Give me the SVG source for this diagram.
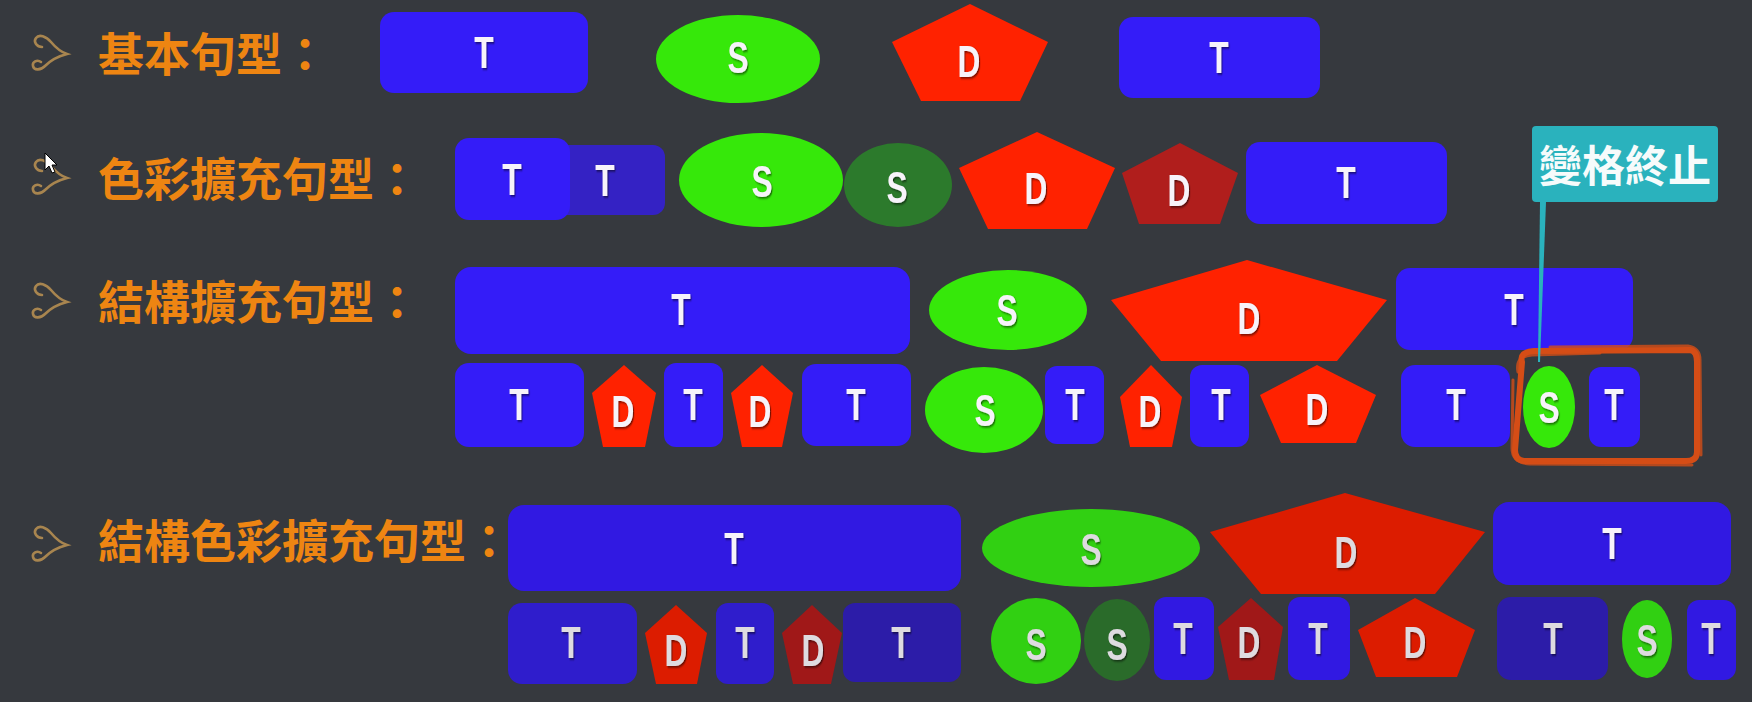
<svg xmlns="http://www.w3.org/2000/svg" width="1752" height="702" viewBox="0 0 1752 702">
<style>
.title{font-family:"Noto Sans CJK TC","Noto Sans CJK SC",sans-serif;font-weight:700;font-size:46px;fill:#ee8512}
.flagtxt{font-family:"Noto Sans CJK TC","Noto Sans CJK SC",sans-serif;font-weight:700;font-size:43px;fill:#f6fbfb;text-anchor:middle}
.lbl{font-family:"Liberation Sans",Arial,sans-serif;font-weight:700;font-size:44px;fill:#f7f3fa;text-anchor:middle;filter:url(#sh)}
.lbl2{font-family:"Liberation Sans",Arial,sans-serif;font-weight:700;font-size:44px;fill:#dedbe0;text-anchor:middle;filter:url(#sh)}
.icon{fill:none;stroke:#a8854f;stroke-width:2.6;stroke-linecap:round}
.tb{fill:#341cf8}
.tbd{fill:#3422c4}
.tb4{fill:#3119e2}
.tb4m{fill:#2f1dcc}
.tb4d{fill:#2c1ca8}
.sg{fill:#36e80a}
.sg4{fill:#31d012}
.sgd{fill:#2c7a2c}
.sgd4{fill:#2a6b2a}
.dr{fill:#ff2200}
.dr4{fill:#dc1c00}
.drd{fill:#b01e1c}
.drd4{fill:#a01818}
</style>
<defs>
<filter id="sh" x="-50%" y="-50%" width="200%" height="200%">
<feDropShadow dx="1.6" dy="1.6" stdDeviation="0.8" flood-color="#000" flood-opacity="0.55"/>
</filter>
<path id="ic" class="icon" d="M-9,-6 C-14,-6 -18,-11 -15,-15 C-12,-19 -5,-17 0,-11 C5,-5 10,-1 16,1 C8,3 0,7 -6,13 C-10,17 -17,18 -18,13 C-19,9 -14,6 -10,9"/>
</defs>
<rect x="0" y="0" width="1752" height="702" fill="#36393e"/>

<!-- row titles -->
<g id="row1-title"><use href="#ic" x="51" y="53"/><text class="title" x="98" y="71">基本句型：</text></g>
<g id="row2-title"><use href="#ic" x="51" y="177"/><text class="title" x="98" y="196">色彩擴充句型：</text></g>
<g id="row3-title"><use href="#ic" x="51" y="301"/><text class="title" x="98" y="319">結構擴充句型：</text></g>
<g id="row4-title"><use href="#ic" x="51" y="544"/><text class="title" x="98" y="558">結構色彩擴充句型：</text></g>
<g id="cursor"><polygon points="45,153 45,170 49,166 52,173 55,172 52,165 57,165" fill="#fff" stroke="#000" stroke-width="1"/></g>

<!-- Row 1 -->
<g id="r1-T1"><rect class="tb" x="380" y="12" width="208" height="81" rx="14"/><g transform="translate(484,52) scale(0.72,1)"><text class="lbl" y="16">T</text></g></g>
<g id="r1-S"><ellipse class="sg" cx="738" cy="59" rx="82" ry="44"/><g transform="translate(738,57) scale(0.72,1)"><text class="lbl" y="16">S</text></g></g>
<g id="r1-D"><polygon class="dr" points="970,4 1048,42 1020,101 921,101 892,42"/><g transform="translate(969,61) scale(0.72,1)"><text class="lbl" y="16">D</text></g></g>
<g id="r1-T2"><rect class="tb" x="1119" y="17" width="201" height="81" rx="14"/><g transform="translate(1219,57) scale(0.72,1)"><text class="lbl" y="16">T</text></g></g>

<!-- Row 2 -->
<g id="r2-T2"><rect class="tbd" x="540" y="145" width="125" height="70" rx="12"/><g transform="translate(605,180) scale(0.72,1)"><text class="lbl" y="16">T</text></g></g>
<g id="r2-T1"><rect class="tb" x="455" y="138" width="115" height="82" rx="14"/><g transform="translate(512,179) scale(0.72,1)"><text class="lbl" y="16">T</text></g></g>
<g id="r2-S2"><ellipse class="sgd" cx="898" cy="185" rx="54" ry="42"/><g transform="translate(897,187) scale(0.72,1)"><text class="lbl" y="16">S</text></g></g>
<g id="r2-S1"><ellipse class="sg" cx="761" cy="180" rx="82" ry="47"/><g transform="translate(762,181) scale(0.72,1)"><text class="lbl" y="16">S</text></g></g>
<g id="r2-D1"><polygon class="dr" points="1037,132 1115,168 1087,229 988,229 959,168"/><g transform="translate(1036,188) scale(0.72,1)"><text class="lbl" y="16">D</text></g></g>
<g id="r2-D2"><polygon class="drd" points="1180,143 1238,173 1220,224 1139,224 1122,173"/><g transform="translate(1179,190) scale(0.72,1)"><text class="lbl" y="16">D</text></g></g>
<g id="r2-T3"><rect class="tb" x="1246" y="142" width="201" height="82" rx="14"/><g transform="translate(1346,182) scale(0.72,1)"><text class="lbl" y="16">T</text></g></g>
<g id="flag"><rect x="1532" y="126" width="186" height="76" rx="4" fill="#2ab2bd"/><text class="flagtxt" x="1625" y="182">變格終止</text></g>

<!-- Row 3 top -->
<g id="r3-T1"><rect class="tb" x="455" y="267" width="455" height="87" rx="16"/><g transform="translate(681,309) scale(0.72,1)"><text class="lbl" y="16">T</text></g></g>
<g id="r3-S"><ellipse class="sg" cx="1008" cy="310" rx="79" ry="40"/><g transform="translate(1007,310) scale(0.72,1)"><text class="lbl" y="16">S</text></g></g>
<g id="r3-D"><polygon class="dr" points="1247,260 1387,300 1337,361 1161,361 1111,300"/><g transform="translate(1249,318) scale(0.72,1)"><text class="lbl" y="16">D</text></g></g>
<g id="r3-T2"><rect class="tb" x="1396" y="268" width="237" height="82" rx="14"/><g transform="translate(1514,309) scale(0.72,1)"><text class="lbl" y="16">T</text></g></g>

<!-- Row 3 bottom -->
<g id="r3b-T1"><rect class="tb" x="455" y="363" width="129" height="84" rx="14"/><g transform="translate(519,404) scale(0.72,1)"><text class="lbl" y="16">T</text></g></g>
<g id="r3b-D1"><polygon class="dr" points="624,365 656,393 645,447 603,447 592,393"/><g transform="translate(623,411) scale(0.72,1)"><text class="lbl" y="16">D</text></g></g>
<g id="r3b-T2"><rect class="tb" x="664" y="363" width="59" height="84" rx="12"/><g transform="translate(693,404) scale(0.72,1)"><text class="lbl" y="16">T</text></g></g>
<g id="r3b-D2"><polygon class="dr" points="762,365 793,393 782,447 742,447 731,393"/><g transform="translate(760,411) scale(0.72,1)"><text class="lbl" y="16">D</text></g></g>
<g id="r3b-T3"><rect class="tb" x="802" y="364" width="109" height="82" rx="14"/><g transform="translate(856,404) scale(0.72,1)"><text class="lbl" y="16">T</text></g></g>
<g id="r3b-S1"><ellipse class="sg" cx="984" cy="410" rx="59" ry="43"/><g transform="translate(985,410) scale(0.72,1)"><text class="lbl" y="16">S</text></g></g>
<g id="r3b-T4"><rect class="tb" x="1045" y="366" width="59" height="78" rx="12"/><g transform="translate(1075,404) scale(0.72,1)"><text class="lbl" y="16">T</text></g></g>
<g id="r3b-D3"><polygon class="dr" points="1151,365 1182,397 1172,447 1130,447 1120,397"/><g transform="translate(1150,411) scale(0.72,1)"><text class="lbl" y="16">D</text></g></g>
<g id="r3b-T5"><rect class="tb" x="1190" y="365" width="59" height="82" rx="12"/><g transform="translate(1221,404) scale(0.72,1)"><text class="lbl" y="16">T</text></g></g>
<g id="r3b-D4"><polygon class="dr" points="1317,365 1376,395 1356,443 1281,443 1260,395"/><g transform="translate(1317,409) scale(0.72,1)"><text class="lbl" y="16">D</text></g></g>
<g id="r3b-T6"><rect class="tb" x="1401" y="365" width="109" height="82" rx="14"/><g transform="translate(1456,404) scale(0.72,1)"><text class="lbl" y="16">T</text></g></g>
<g id="r3b-S2"><ellipse class="sg" cx="1549" cy="407" rx="26" ry="41"/><g transform="translate(1549,407) scale(0.72,1)"><text class="lbl" y="16">S</text></g></g>
<g id="r3b-T7"><rect class="tb" x="1589" y="367" width="51" height="80" rx="12"/><g transform="translate(1614,404) scale(0.72,1)"><text class="lbl" y="16">T</text></g></g>
<g id="highlight-box" fill="none" stroke="#d54d16" stroke-linecap="round" stroke-linejoin="round">
<path stroke-width="6" d="M1522,362 Q1519,352 1534,351 L1690,350 Q1697,351 1697,362 L1697,452 Q1697,461 1686,461 L1524,461 Q1515,460 1515,450 Z"/>
<path stroke-width="3" opacity="0.8" d="M1518,372 Q1515,356 1532,355 L1600,353 M1550,347 L1688,346 Q1700,348 1700,360 L1701,455 M1692,465 L1530,464 Q1512,463 1512,448 L1513,380"/>
</g>

<!-- Row 4 top -->
<g id="r4-T1"><rect class="tb4" x="508" y="505" width="453" height="86" rx="16"/><g transform="translate(734,548) scale(0.72,1)"><text class="lbl" y="16">T</text></g></g>
<g id="r4-S"><ellipse class="sg4" cx="1091" cy="548" rx="109" ry="39"/><g transform="translate(1091,549) scale(0.72,1)"><text class="lbl2" y="16">S</text></g></g>
<g id="r4-D"><polygon class="dr4" points="1345,493 1485,532 1435,594 1261,594 1210,532"/><g transform="translate(1346,552) scale(0.72,1)"><text class="lbl2" y="16">D</text></g></g>
<g id="r4-T2"><rect class="tb4" x="1493" y="502" width="238" height="83" rx="16"/><g transform="translate(1612,543) scale(0.72,1)"><text class="lbl" y="16">T</text></g></g>

<!-- Row 4 bottom -->
<g id="r4b-T1"><rect class="tb4m" x="508" y="603" width="129" height="81" rx="14"/><g transform="translate(571,642) scale(0.72,1)"><text class="lbl2" y="16">T</text></g></g>
<g id="r4b-D1"><polygon class="dr4" points="676,605 707,633 697,684 656,684 645,633"/><g transform="translate(676,650) scale(0.72,1)"><text class="lbl2" y="16">D</text></g></g>
<g id="r4b-T2"><rect class="tb4m" x="716" y="603" width="58" height="81" rx="12"/><g transform="translate(745,642) scale(0.72,1)"><text class="lbl2" y="16">T</text></g></g>
<g id="r4b-D2"><polygon class="drd4" points="812,605 842,633 831,684 793,684 782,633"/><g transform="translate(813,650) scale(0.72,1)"><text class="lbl2" y="16">D</text></g></g>
<g id="r4b-T3"><rect class="tb4d" x="843" y="603" width="118" height="79" rx="12"/><g transform="translate(901,642) scale(0.72,1)"><text class="lbl2" y="16">T</text></g></g>
<g id="r4b-S1"><ellipse class="sg4" cx="1036" cy="641" rx="45" ry="43"/><g transform="translate(1036,644) scale(0.72,1)"><text class="lbl2" y="16">S</text></g></g>
<g id="r4b-S2"><ellipse class="sgd4" cx="1117" cy="640" rx="33" ry="41"/><g transform="translate(1117,644) scale(0.72,1)"><text class="lbl2" y="16">S</text></g></g>
<g id="r4b-T4"><rect class="tb4" x="1154" y="597" width="60" height="83" rx="12"/><g transform="translate(1183,638) scale(0.72,1)"><text class="lbl2" y="16">T</text></g></g>
<g id="r4b-D3"><polygon class="drd4" points="1251,598 1283,627 1274,680 1229,680 1218,627"/><g transform="translate(1249,642) scale(0.72,1)"><text class="lbl2" y="16">D</text></g></g>
<g id="r4b-T5"><rect class="tb4" x="1288" y="597" width="62" height="83" rx="12"/><g transform="translate(1318,638) scale(0.72,1)"><text class="lbl2" y="16">T</text></g></g>
<g id="r4b-D4"><polygon class="dr4" points="1415,598 1475,630 1457,677 1376,677 1358,630"/><g transform="translate(1415,642) scale(0.72,1)"><text class="lbl2" y="16">D</text></g></g>
<g id="r4b-T6"><rect class="tb4d" x="1497" y="597" width="111" height="83" rx="14"/><g transform="translate(1553,638) scale(0.72,1)"><text class="lbl2" y="16">T</text></g></g>
<g id="r4b-S3"><ellipse class="sg4" cx="1647" cy="639" rx="25" ry="39"/><g transform="translate(1647,640) scale(0.72,1)"><text class="lbl2" y="16">S</text></g></g>
<g id="r4b-T7"><rect class="tb4" x="1687" y="600" width="49" height="80" rx="12"/><g transform="translate(1711,638) scale(0.72,1)"><text class="lbl2" y="16">T</text></g></g>

<!-- connectors -->
<g id="connectors">
<polygon points="1540,202 1546,202 1540,362 1538,362" fill="#2ab2bd"/>
</g>
</svg>
